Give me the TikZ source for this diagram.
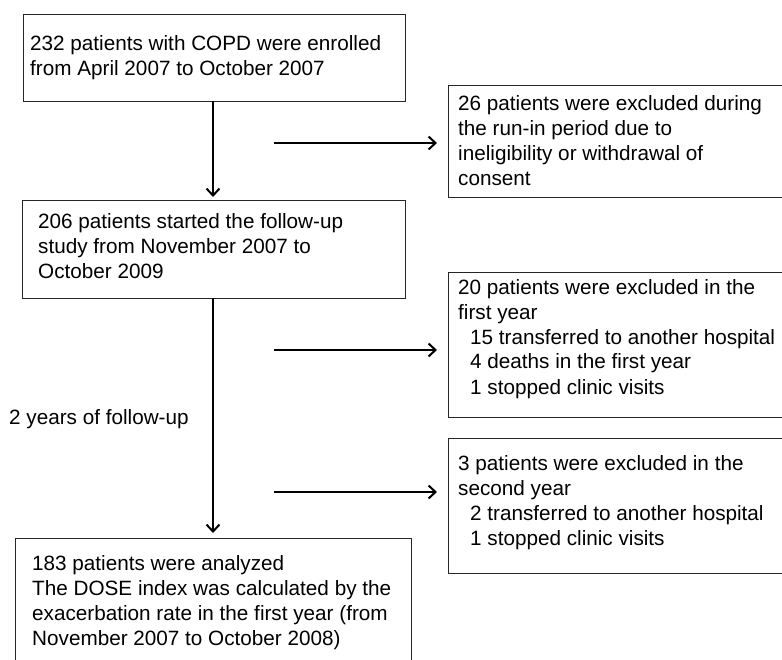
\documentclass[tikz,border=0pt]{standalone}
\usepackage{fontspec}
\setmainfont{Liberation Sans}
\usetikzlibrary{arrows.meta}
\begin{document}
\begin{tikzpicture}[x=1pt,y=-1pt,
  box/.style={draw=black!85,line width=1pt,rectangle,anchor=north west,inner sep=0pt},
  txt/.style={anchor=base west,inner sep=0pt,align=left,font=\fontsize{20.7}{25}\selectfont},
  flow/.style={line width=2pt,-{Straight Barb[length=7pt,width=13pt,line width=2pt]}}]
\useasboundingbox (0,0) rectangle (782,660);
\clip (0,0) rectangle (782,660);
% boxes
\node[box,minimum width=382pt,minimum height=87pt] (b1) at (23,14) {};
\node[box,minimum width=383pt,minimum height=98pt] (b2) at (22,200) {};
\node[box,minimum width=360pt,minimum height=112pt] (b3) at (448,85) {};
\node[box,minimum width=360pt,minimum height=145pt] (b4) at (448,272) {};
\node[box,minimum width=360pt,minimum height=135pt] (b5) at (448,438) {};
\node[box,minimum width=396pt,minimum height=150pt] (b6) at (15,538) {};
% texts (base = baseline of last line)
\node[txt] (t1) at (30,76) {232 patients with COPD were enrolled\\from April 2007 to October 2007};
\node[txt] (t2) at (38,279) {206 patients started the follow-up\\study from November 2007 to\\October 2009};
\node[txt] (t3) at (458,186) {26 patients were excluded during\\the run-in period due to\\ineligibility or withdrawal of\\consent};
\node[txt] (t4) at (458,394) {20 patients were excluded in the\\first year\\\hspace*{12pt}15 transferred to another hospital\\\hspace*{12pt}4 deaths in the first year\\\hspace*{12pt}1 stopped clinic visits};
\node[txt] (t5) at (458,545) {3 patients were excluded in the\\second year\\\hspace*{12pt}2 transferred to another hospital\\\hspace*{12pt}1 stopped clinic visits};
\node[txt] (t6) at (32,645) {183 patients were analyzed\\The DOSE index was calculated by the\\exacerbation rate in the first year (from\\November 2007 to October 2008)};
\node[txt] (lab) at (9,424) {2 years of follow-up};
% connectors
\coordinate (v1) at (213,101);
\coordinate (v2) at (213,298);
\draw[flow,shorten >=3pt] (v1) -- (v1 |- b2.north);
\draw[flow,shorten >=5pt] (v2) -- (v2 |- b6.north);
\coordinate (h1) at (274,143);
\coordinate (h2) at (274,350);
\coordinate (h3) at (274,492);
\draw[flow,shorten >=11pt] (h1) -- (h1 -| b3.west);
\draw[flow,shorten >=11pt] (h2) -- (h2 -| b4.west);
\draw[flow,shorten >=11pt] (h3) -- (h3 -| b5.west);
\end{tikzpicture}
\end{document}
